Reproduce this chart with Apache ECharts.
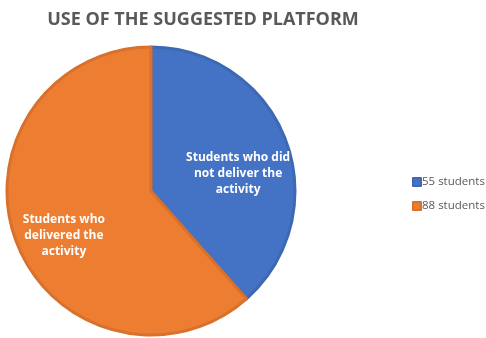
<!DOCTYPE html>
<html>
<head>
<meta charset="utf-8">
<script src="https://cdn.jsdelivr.net/npm/echarts@6/dist/echarts.min.js"></script>
<style>html,body{margin:0;padding:0;background:#fff}#c{width:486px;height:338px}</style>
</head>
<body>
<div id="c"></div>
<script>
const legendNames = ['55 students', '88 students'];
const values = [55, 88];
const sliceLabels = ['Students who did\nnot deliver the\nactivity', 'Students who\ndelivered the\nactivity'];
const colors = ['#4472C4', '#ED7D31'];
const borderColors = ['#3E68B3', '#D8712B'];
const labelOffsets = [[17, 9], [-17, 18]];

const chart = echarts.init(document.getElementById('c'));
chart.setOption({
  animation: false,
  title: {
    text: 'USE OF THE SUGGESTED PLATFORM',
    left: 198, top: 6, textAlign: 'center',
    textStyle: {fontFamily: 'Open Sans', fontWeight: 'bold', fontSize: 18, color: '#595959'}
  },
  legend: {
    orient: 'vertical', left: 407, top: 171,
    icon: 'rect', itemWidth: 8, itemHeight: 8, itemGap: 12,
    textStyle: {fontFamily: 'Open Sans', fontSize: 11.5, color: '#595959', padding: [0,0,0,-4]},
    data: legendNames
  },
  series: [{
    type: 'pie',
    center: [151, 191], radius: 144,
    startAngle: 90, clockwise: true,
    label: {
      show: true, position: 'inside', color: '#fff',
      fontFamily: 'Open Sans', fontWeight: 'bold', fontSize: 12, lineHeight: 16,
      formatter: p => sliceLabels[p.dataIndex]
    },
    labelLine: {show: false},
    emphasis: {disabled: true},
    data: values.map((v, i) => ({
      name: legendNames[i], value: v,
      itemStyle: {color: colors[i], borderColor: borderColors[i], borderWidth: 3},
      label: {offset: labelOffsets[i]}
    }))
  }]
});
</script>
</body>
</html>
